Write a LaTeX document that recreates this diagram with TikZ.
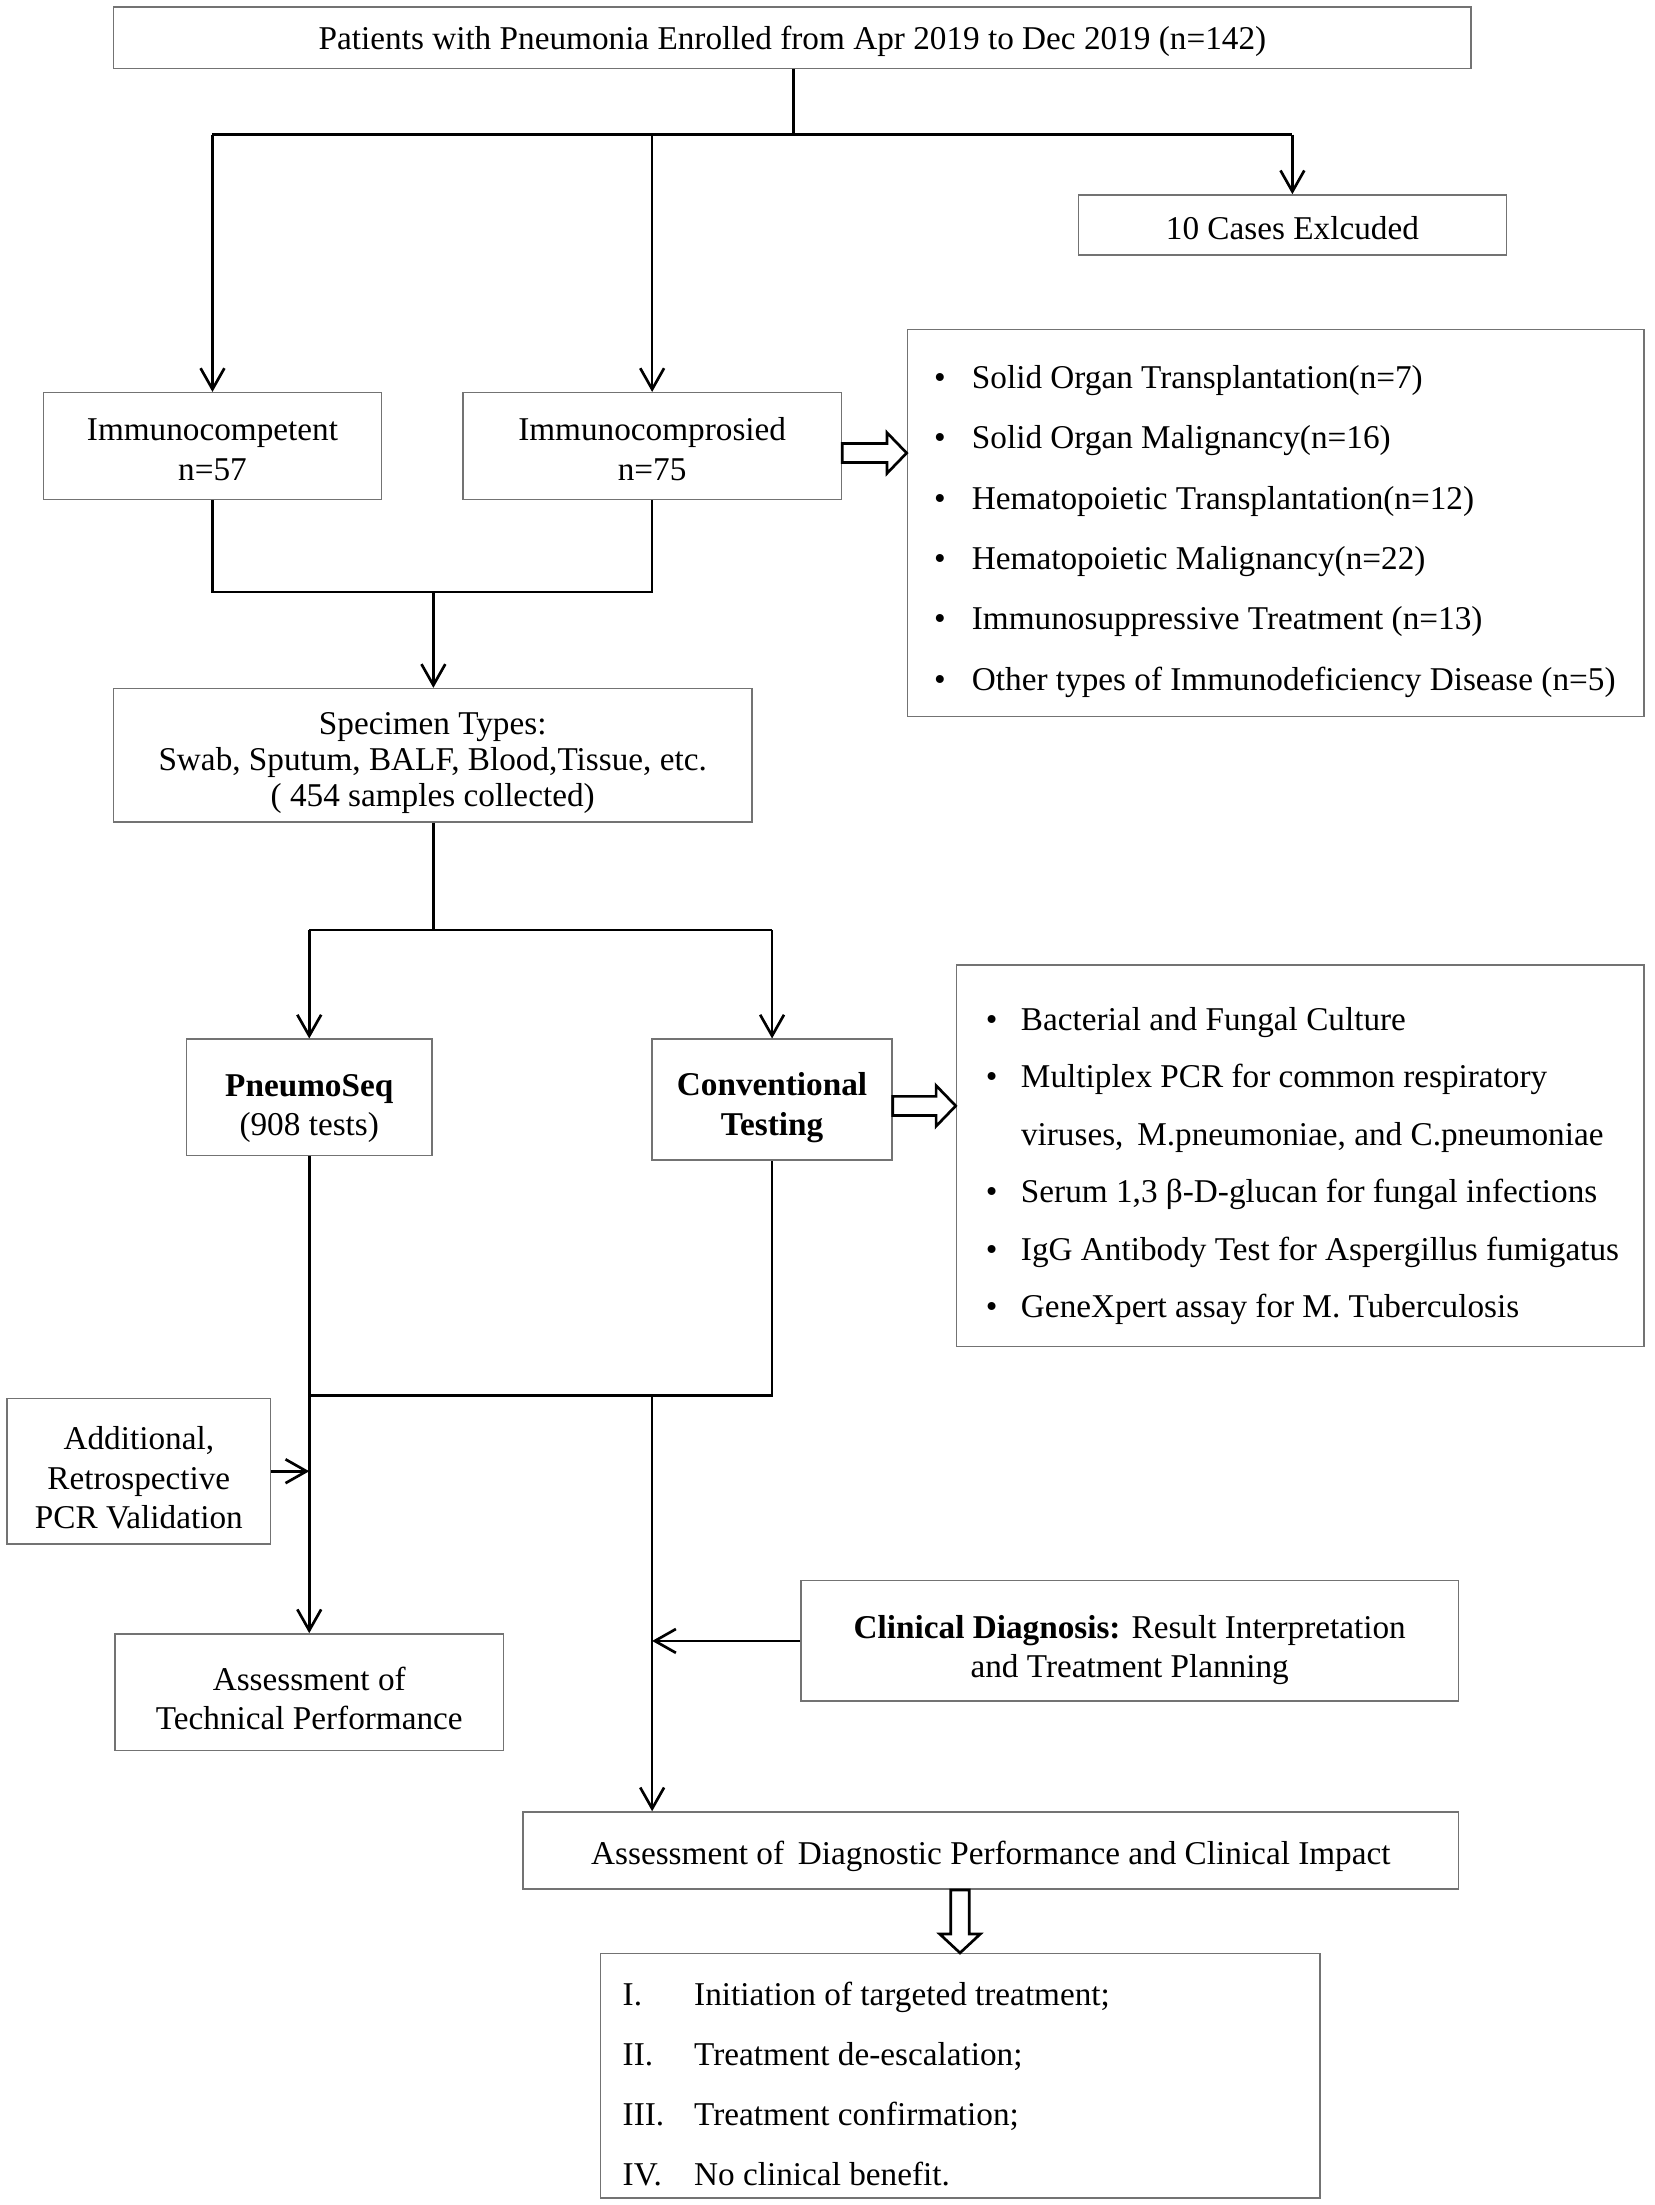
\documentclass[tikz,border=0pt]{standalone}
\usepackage{fontspec}
\setmainfont{Liberation Serif}
\usetikzlibrary{arrows.meta,calc}
\newcommand\mainfs{\fontsize{23.7}{28}\selectfont}
\newcommand\lowr[1]{\rule{0pt}{#1pt}}
\newcommand\harrowR[2]{%
  \draw[hollow] ($(#1)+(0,6.8)$) -- ($(#2)+(-14,6.8)$) -- ($(#2)+(-14,14.5)$) -- (#2)
    -- ($(#2)+(-14,-14.5)$) -- ($(#2)+(-14,-6.8)$) -- ($(#1)+(0,-6.8)$) -- cycle;}
\newcommand\harrowD[2]{%
  \draw[hollow] ($(#1)+(-6.6,0)$) -- ($(#2)+(-6.6,13.5)$) -- ($(#2)+(-14.5,13.5)$) -- (#2)
    -- ($(#2)+(14.5,13.5)$) -- ($(#2)+(6.6,13.5)$) -- ($(#1)+(6.6,0)$) -- cycle;}
\begin{document}
\begin{tikzpicture}[x=1pt,y=1pt,
  box/.style={draw=black!55, line width=1.1pt, rectangle, inner sep=0pt, align=center, font=\mainfs},
  conn/.style={line width=1.9pt, line join=miter},
  arr/.style={line width=1.9pt, -{Straight Barb[length=15pt,width=17pt,line width=1.9pt]}},
  hollow/.style={line width=1.9pt, fill=white, line join=miter}]
\useasboundingbox[fill=white] (0,0) rectangle (1180,-1572.2);

% boxes
\node[box, minimum width=968, minimum height=44] (top) at (565,-27)
  {\lowr{21}Patients with Pneumonia Enrolled from Apr 2019 to Dec 2019 (n=142)};
\node[box, minimum width=305, minimum height=43] (ex) at (921.5,-160.5) {\lowr{21}10 Cases Exlcuded};
\node[box, minimum width=241, minimum height=76] (imc) at (151.5,-318) {\lowr{21}Immunocompetent\\n=57};
\node[box, minimum width=270, minimum height=76] (imp) at (465,-318) {\lowr{21}Immunocomprosied\\n=75};
\node[box, minimum width=525, minimum height=276] (l1) at (909.5,-373)
  {\makebox[525pt][l]{\begin{tabular}{@{\hspace{19pt}}p{27pt}@{}l@{}}
  \noalign{\vskip 12pt}
  \textbullet & Solid Organ Transplantation(n=7)\\[15pt]
  \textbullet & Solid Organ Malignancy(n=16)\\[15pt]
  \textbullet & Hematopoietic Transplantation(n=12)\\[15pt]
  \textbullet & Hematopoietic Malignancy(n=22)\\[15pt]
  \textbullet & Immunosuppressive Treatment (n=13)\\[15pt]
  \textbullet & Other types of Immunodeficiency Disease (n=5)
  \end{tabular}}};
\node[box, minimum width=455, minimum height=95] (spec) at (308.5,-538.5)
  {\lowr{27}Specimen Types:\\[-2.5pt]Swab, Sputum, BALF, Blood,Tissue, etc.\\[-2.5pt]( 454 samples collected)};
\node[box, minimum width=175, minimum height=83] (seq) at (220.5,-782.5) {\lowr{31}\textbf{PneumoSeq}\\(908 tests)};
\node[box, minimum width=171, minimum height=86] (conv) at (550.5,-784) {\lowr{28}\textbf{Conventional}\\\textbf{Testing}};
\node[box, minimum width=490, minimum height=272] (l2) at (927,-824)
  {\makebox[490pt][l]{\begin{tabular}{@{\hspace{21pt}}p{25pt}@{}l@{}}
  \noalign{\vskip 15pt}
  \textbullet & Bacterial and Fungal Culture\\[13pt]
  \textbullet & Multiplex PCR for common respiratory\\[13pt]
   & viruses,\, M.pneumoniae, and C.pneumoniae\\[13pt]
  \textbullet & Serum 1,3 β-D-glucan for fungal infections\\[13pt]
  \textbullet & IgG Antibody Test for Aspergillus fumigatus\\[13pt]
  \textbullet & GeneXpert assay for M. Tuberculosis
  \end{tabular}}};
\node[box, minimum width=188, minimum height=104] (addl) at (99,-1049) {\lowr{26}Additional,\\Retrospective\\PCR Validation};
\node[box, minimum width=277, minimum height=83] (tech) at (220.5,-1206.5) {\lowr{26}Assessment of\\Technical Performance};
\node[box, minimum width=469, minimum height=86] (clin) at (805.5,-1170)
  {\lowr{29}\textbf{Clinical Diagnosis:} Result Interpretation\\and Treatment Planning};
\node[box, minimum width=667, minimum height=55] (diag) at (706.5,-1319.5)
  {\lowr{25}Assessment of\, Diagnostic Performance and Clinical Impact};
\node[box, minimum width=513, minimum height=164] (out) at (684.5,-1480)
  {\makebox[513pt][l]{\begin{tabular}{@{\hspace{16pt}}p{51pt}@{}l@{}}
  \noalign{\vskip 17pt}
  I. & Initiation of targeted treatment;\\[15pt]
  II. & Treatment de-escalation;\\[15pt]
  III. & Treatment confirmation;\\[15pt]
  IV. & No clinical benefit.
  \end{tabular}}};

% junction coordinates
\coordinate (j1) at (566,-96);
\coordinate (m1) at (309,-422);
\coordinate (j2) at (309,-663);
\coordinate (m2) at (465,-995);

% first split
\draw[conn] (top.south -| j1) -- (j1);
\draw[conn] (imc.north |- j1) -- (ex.north |- j1);
\draw[arr] (imc.north |- j1) -- (imc.north);
\draw[arr] (imp.north |- j1) -- (imp.north);
\draw[arr] (ex.north |- j1) -- (ex.north);

% merge to specimen
\draw[conn] (imc.south) -- (imc.south |- m1) -- (imp.south |- m1) -- (imp.south);
\draw[arr] (m1) -- (m1 |- spec.north);

% split to tests
\draw[conn] (spec.south -| j2) -- (j2);
\draw[conn] (seq.north |- j2) -- (conv.north |- j2);
\draw[arr] (seq.north |- j2) -- (seq.north);
\draw[arr] (conv.north |- j2) -- (conv.north);

% merge after tests
\draw[conn] (seq.south) -- (seq.south |- m2) -- (conv.south |- m2) -- (conv.south);
\draw[arr] (seq.south |- m2) -- (tech.north);
\draw[arr] (m2) -- (m2 |- diag.north);
\draw[arr] (addl.east) -- (addl.east -| seq.south);
\draw[arr] (clin.west) -- (clin.west -| m2);

% hollow block arrows
\coordinate (h1) at ($(imp.east)+(0,-5)$);
\harrowR{h1}{h1 -| l1.west}
\coordinate (h2) at ($(conv.east)+(0,-4.5)$);
\harrowR{h2}{h2 -| l2.west}
\coordinate (h3) at (out.north |- diag.south);
\harrowD{h3}{out.north}
\end{tikzpicture}
\end{document}
